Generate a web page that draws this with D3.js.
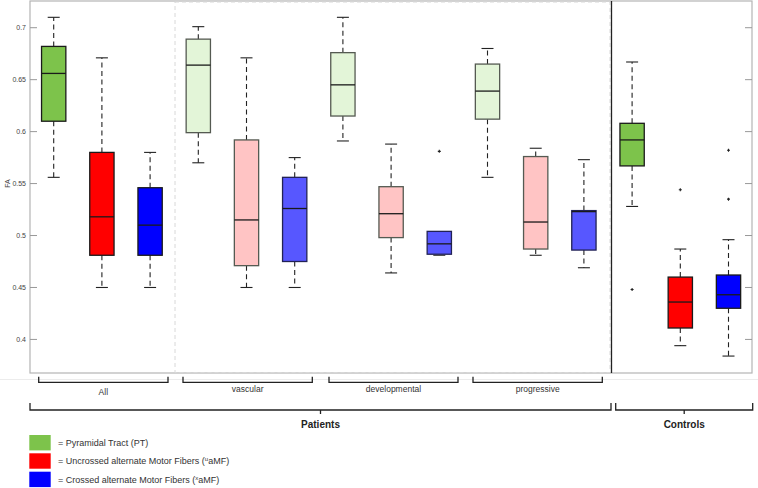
<!DOCTYPE html>
<html><head><meta charset="utf-8">
<script src="https://cdn.jsdelivr.net/npm/d3@7"></script>
<style>body{margin:0;background:#fff}svg{display:block;font-family:Arial,"Liberation Sans",sans-serif}</style>
</head><body><svg id="c" width="758" height="488"></svg>
<script>
// ---- data ----
const groups = ["All", "vascular", "developmental", "progressive", "Controls"];
const tracts = ["PT", "uaMF", "xaMF"];
// per box: [lowWhisker, Q1, median, Q3, highWhisker]
const allStats      = [[0.556,0.610,0.656,0.682,0.710],[0.450,0.481,0.518,0.580,0.671],[0.450,0.481,0.510,0.546,0.580]];
const vascularStats = [[0.570,0.599,0.664,0.689,0.701],[0.450,0.471,0.515,0.592,0.671],[0.450,0.475,0.526,0.556,0.575]];
const developStats  = [[0.591,0.615,0.645,0.676,0.710],[0.464,0.498,0.521,0.547,0.588],[0.482,0.482,0.492,0.504,0.504]];
const progressStats = [[0.556,0.612,0.639,0.665,0.680],[0.481,0.487,0.513,0.576,0.584],[0.469,0.486,0.523,0.524,0.573]];
const controlStats  = [[0.528,0.567,0.592,0.608,0.667],[0.394,0.411,0.436,0.460,0.487],[0.384,0.430,0.443,0.462,0.496]];
const outliers = [ // [groupIndex, tractIndex, value]
  [2,2,0.581],[4,0,0.448],[4,1,0.544],[4,2,0.582],[4,2,0.535]
];
const yTicks = [0.4,0.45,0.5,0.55,0.6,0.65,0.7];
const legendLabels = ["= Pyramidal Tract (PT)", "= Uncrossed alternate Motor Fibers (", "= Crossed alternate Motor Fibers ("];
const legendSup = ["", "u", "x"];

const strong = ["#7dc34b","#ff0000","#0000ff"];
const light  = ["#e3f5d8","#ffc4c4","#5757ff"];

const statsByGroup = [allStats, vascularStats, developStats, progressStats, controlStats];

const svg = d3.select("#c");
const L=30, R=752, T=1, B=373;
const y = d3.scaleLinear().domain([0.3677,0.7257]).range([B,T]);
const x = d3.scaleLinear().domain([1,15]).range([53.7,728.5]);
const bw = 24.3;

// frame
svg.append("rect").attr("x",L).attr("y",T).attr("width",R-L).attr("height",B-T)
  .attr("fill","none").attr("stroke","#b4b4b4").attr("stroke-width",1.2);
// faint line below
svg.append("line").attr("x1",0).attr("x2",758).attr("y1",379.5).attr("y2",379.5).attr("stroke","#ececec");
// dashed subgroup rect
const xd1 = (x(3)+x(4))/2+0.8, xd2 = 610;
svg.append("rect").attr("x",xd1).attr("y",T+1).attr("width",xd2-xd1).attr("height",B-T-1.5)
  .attr("fill","none").attr("stroke","#d8d8d8").attr("stroke-dasharray","4,3");
// separator
svg.append("line").attr("x1",611.5).attr("x2",611.5).attr("y1",T).attr("y2",B).attr("stroke","#222").attr("stroke-width",1.3);

// y axis ticks
const ax = svg.append("g");
yTicks.forEach(t=>{
  ax.append("line").attr("x1",L).attr("x2",L+7).attr("y1",y(t)).attr("y2",y(t)).attr("stroke","#999");
  ax.append("line").attr("x1",R-7).attr("x2",R).attr("y1",y(t)).attr("y2",y(t)).attr("stroke","#999");
  ax.append("text").attr("x",L-4).attr("y",y(t)+2.5).attr("text-anchor","end")
    .attr("font-size",7).attr("fill","#444").text(String(t));
});
svg.append("text").attr("transform",`translate(10,${y(0.55)}) rotate(-90)`).attr("text-anchor","middle")
  .attr("font-size",7).attr("fill","#444").text("FA");

// boxes
statsByGroup.forEach((gs,gi)=>{
  gs.forEach((s,ti)=>{
    const cx = x(gi*3+ti+1);
    const isLight = gi>=1 && gi<=3;
    const fill = isLight ? light[ti] : strong[ti];
    const stroke = isLight ? (ti===2 ? "#222255" : "#555a52") : "#1a1a1a";
    const g = svg.append("g");
    const [lo,q1,md,q3,hi] = s;
    // whiskers
    if (hi>q3){
      g.append("line").attr("x1",cx).attr("x2",cx).attr("y1",y(q3)).attr("y2",y(hi)).attr("stroke","#222").attr("stroke-dasharray","5,3.5").attr("stroke-width",1.1);
      g.append("line").attr("x1",cx-6).attr("x2",cx+6).attr("y1",y(hi)).attr("y2",y(hi)).attr("stroke","#222").attr("stroke-width",1.1);
    }
    if (lo<q1){
      g.append("line").attr("x1",cx).attr("x2",cx).attr("y1",y(q1)).attr("y2",y(lo)).attr("stroke","#222").attr("stroke-dasharray","5,3.5").attr("stroke-width",1.1);
      g.append("line").attr("x1",cx-6).attr("x2",cx+6).attr("y1",y(lo)).attr("y2",y(lo)).attr("stroke","#222").attr("stroke-width",1.1);
    } else {
      g.append("line").attr("x1",cx-6).attr("x2",cx+6).attr("y1",y(lo)+1).attr("y2",y(lo)+1).attr("stroke","#222").attr("stroke-width",1.1);
    }
    g.append("rect").attr("x",cx-bw/2).attr("y",y(q3)).attr("width",bw).attr("height",y(q1)-y(q3))
      .attr("fill",fill).attr("stroke",stroke).attr("stroke-width",1.3);
    g.append("line").attr("x1",cx-bw/2).attr("x2",cx+bw/2).attr("y1",y(md)).attr("y2",y(md)).attr("stroke","#1a1a1a").attr("stroke-width",1.3);
  });
});
outliers.forEach(([gi,ti,v])=>{
  const cx = x(gi*3+ti+1);
  svg.append("path").attr("d",`M${cx-1.5},${y(v)}h3M${cx},${y(v)-1.5}v3`).attr("stroke","#222").attr("stroke-width",1.1);
});

// brackets
function bracket(x1,x2,yb,up,center){
  let d = `M${x1},${yb-up}V${yb}H${x2}V${yb-up}`;
  if(center) d += `M${(x1+x2)/2},${yb}v${center}`;
  svg.append("path").attr("d",d).attr("fill","none").attr("stroke","#222").attr("stroke-width",1.3);
}
const sub = [[38.7,168],[183,312.3],[329,458],[473,602.3]];
const subLabels = groups.slice(0,4);
sub.forEach((s,i)=>{
  bracket(s[0],s[1],382.3,5.5,0);
  svg.append("text").attr("x",(s[0]+s[1])/2).attr("y",i===0?394.5:392).attr("text-anchor","middle")
    .attr("font-size",8.5).attr("fill","#333").text(subLabels[i]);
});
bracket(30,611,410,7,4);
bracket(615.7,752.7,410,7,4);
svg.append("text").attr("x",(30+611)/2).attr("y",428).attr("text-anchor","middle").attr("font-size",10).attr("font-weight","bold").attr("fill","#222").text("Patients");
svg.append("text").attr("x",(615.7+752.7)/2).attr("y",428).attr("text-anchor","middle").attr("font-size",10).attr("font-weight","bold").attr("fill","#222").text("Controls");

// legend
const ly = [435,453.3,471.7];
legendLabels.forEach((lab,i)=>{
  svg.append("rect").attr("x",29.3).attr("y",ly[i]).attr("width",21.4).attr("height",15.4).attr("fill",strong[i]);
  const t = svg.append("text").attr("x",58).attr("y",ly[i]+11).attr("font-size",9).attr("fill","#333");
  t.append("tspan").text(lab);
  if(legendSup[i]){
    t.append("tspan").attr("dy",-3).attr("font-size",6).text(legendSup[i]);
    t.append("tspan").attr("dy",3).attr("font-size",9).text("aMF)");
  }
});
</script></body></html>
